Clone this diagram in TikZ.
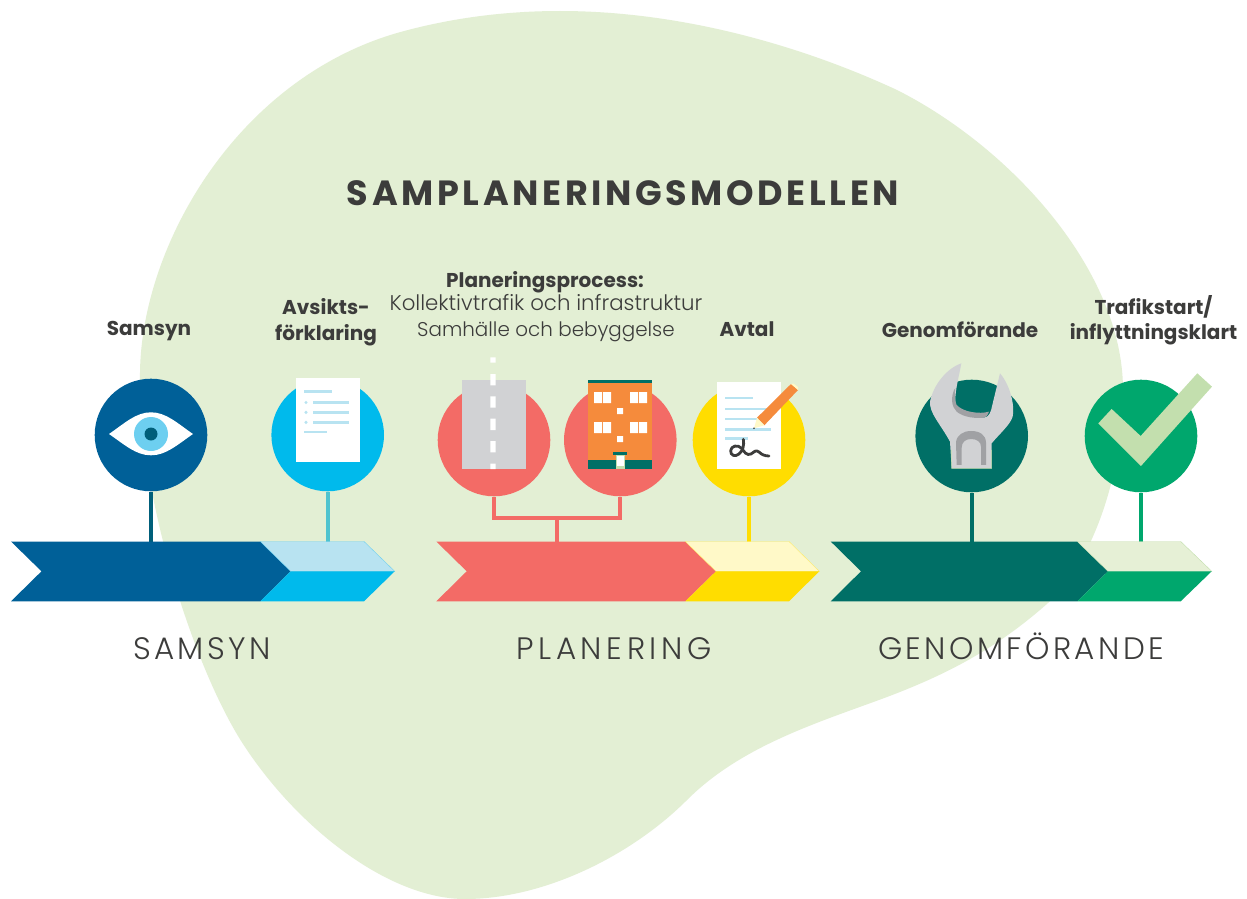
\documentclass[tikz,border=0pt]{standalone}
\usepackage{fontspec}
\setmainfont{Poppins}
\newfontfamily\titlef[LetterSpace=10.4]{Poppins Bold}
\newfontfamily\boldf{Poppins Bold}
\newfontfamily\lightf[LetterSpace=11]{Poppins Light}
\newfontfamily\lightwide[LetterSpace=15]{Poppins Light}
\newfontfamily\regf{Poppins Light}
\definecolor{txt}{HTML}{3C3C3B}
\definecolor{blob}{HTML}{E3EFD4}
\definecolor{navy}{HTML}{006098}
\definecolor{deepteal}{HTML}{005F7A}
\definecolor{cyanc}{HTML}{00BAEC}
\definecolor{lightblue}{HTML}{B8E3F1}
\definecolor{stemcy}{HTML}{4FC3CF}
\definecolor{coral}{HTML}{F36B66}
\definecolor{yel}{HTML}{FFDD00}
\definecolor{lightyel}{HTML}{FFF9C8}
\definecolor{teal}{HTML}{006F66}
\definecolor{green}{HTML}{00A76D}
\definecolor{lightgreen}{HTML}{E6F0D6}
\definecolor{check}{HTML}{C3DFAE}
\definecolor{gray1}{HTML}{D1D2D4}
\definecolor{gray2}{HTML}{A0A1A4}
\definecolor{orange}{HTML}{F58B3C}
\definecolor{iris}{HTML}{6DCFF0}
\tikzset{
  disc/.style={circle,inner sep=0pt,minimum size=112.6pt,fill=#1},
  stem/.style={line width=4pt,draw=#1},
  lab/.style={text=txt,align=center,inner sep=0pt,font=\boldf\fontsize{20}{25.5}\selectfont},
  phase/.style={text=txt,inner sep=0pt,anchor=base,font=\lightf\fontsize{31}{36}\selectfont},
}
\begin{document}
\begin{tikzpicture}[x=1pt,y=-1pt]
\useasboundingbox (0,0) rectangle (1247,899);
\fill[white] (0,0) rectangle (1247,899);
% blob
\fill[blob] (560,11) .. controls (680,11) and (800,45) .. (897,90)
 .. controls (1010,147) and (1123,270) .. (1123,390)
 .. controls (1123,470) and (1095,560) .. (1048,603)
 .. controls (995,650) and (945,675) .. (887,697)
 .. controls (820,722) and (742,745) .. (687,800)
 .. controls (632,855) and (545,899) .. (465,899)
 .. controls (390,899) and (300,830) .. (245,747)
 .. controls (195,672) and (140,500) .. (140,380)
 .. controls (138,250) and (235,80) .. (397,33)
 .. controls (450,18) and (505,11) .. (560,11) -- cycle;
% title
\node[text=txt,inner sep=0pt,anchor=base,font=\titlef\fontsize{35}{40}\selectfont] (title) at (623,205.5) {SAMPLANERINGSMODELLEN};
% anchors on the bands
\coordinate (b1) at (151,542);
\coordinate (b2) at (327.7,542);
\coordinate (b3) at (557,542);
\coordinate (b5) at (749,542);
\coordinate (b6) at (971.7,542);
\coordinate (b7) at (1141,542);
\coordinate (j3) at (557,518);
% circles
\node[disc=navy] (c1) at (151,435) {};
\node[disc=cyanc] (c2) at (327.7,435) {};
\node[disc=coral] (c3) at (494,440) {};
\node[disc=coral] (c4) at (620.3,440) {};
\node[disc=yel] (c5) at (749,440) {};
\node[disc=teal] (c6) at (971.7,436) {};
\node[disc=green] (c7) at (1141,436) {};
% connectors
\draw[stem=deepteal] (c1.south) -- (b1);
\draw[stem=stemcy] (c2.south) -- (b2);
\draw[stem=coral] (c3.south) |- (j3) -| (c4.south);
\draw[stem=coral] (j3) -- (b3);
\draw[stem=yel] (c5.south) -- (b5);
\draw[stem=teal] (c6.south) -- (b6);
\draw[stem=green] (c7.south) -- (b7);
% chevron bands
\fill[navy] (11,541.5) -- (260.3,541.5) -- (290.7,571.3) -- (260.3,601.3) -- (11,601.3) -- (41.5,571.3) -- cycle;
\filldraw[fill=lightblue,draw=iris,line width=.4pt] (260.3,541.5) -- (364,541.5) -- (394.7,571.3) -- (290.7,571.3) -- cycle;
\fill[cyanc] (290.7,571.3) -- (394.7,571.3) -- (364,601.3) -- (260.3,601.3) -- cycle;
\fill[coral] (436.3,541.5) -- (685.3,541.5) -- (716,571.3) -- (685.3,601.3) -- (436.3,601.3) -- (466.7,571.3) -- cycle;
\filldraw[fill=lightyel,draw=yel!60,line width=.4pt] (685.3,541.5) -- (789,541.5) -- (819.3,571.3) -- (716,571.3) -- cycle;
\fill[yel] (716,571.3) -- (819.3,571.3) -- (789,601.3) -- (685.3,601.3) -- cycle;
\fill[teal] (830.7,541.5) -- (1077.3,541.5) -- (1108,571.3) -- (1077.3,601.3) -- (830.7,601.3) -- (861,571.3) -- cycle;
\filldraw[fill=lightgreen,draw=check,line width=.4pt] (1077.3,541.5) -- (1180.7,541.5) -- (1211.7,571.3) -- (1108,571.3) -- cycle;
\fill[green] (1108,571.3) -- (1211.7,571.3) -- (1180.7,601.3) -- (1077.3,601.3) -- cycle;
% labels
\node[lab] (l1) at (149,331.5) {Samsyn};
\node[lab] (l2) at (326,322) {Avsikts-\\förklaring};
\node[lab] (l3) at (545,282) {Planeringsprocess:};
\node[text=txt,align=center,inner sep=0pt,font=\regf\fontsize{20.7}{26}\selectfont] (l3b) at (546,318.5) {{\fontsize{21.3}{26}\selectfont Kollektivtrafik och infrastruktur}\\{\fontsize{19.9}{26}\selectfont Samhälle och bebyggelse}};
\node[lab] (l5) at (747,329) {Avtal};
\node[lab] (l6) at (960,329.5) {Genomförande};
\node[lab] (l7) at (1153.5,320) {Trafikstart/\\inflyttningsklart};
\node[phase] (p1) at (202,659) {SAMSYN};
\node[phase,font=\lightwide\fontsize{31}{36}\selectfont] (p2) at (614,659) {PLANERING};
\node[phase] (p3) at (1021,659) {GENOMFÖRANDE};
% eye
\fill[white] (109,434) .. controls (125,423) and (136,412.3) .. (151,412.3) .. controls (166,412.3) and (177,423) .. (193,434) .. controls (177,445) and (166,455.3) .. (151,455.3) .. controls (136,455.3) and (125,445) .. (109,434) -- cycle;
\fill[iris] (151,434) circle (17);
\fill[deepteal] (151,434) circle (6.5);
% document
\fill[white] (296,378) rectangle (360,461.7);
\begin{scope}[lightblue,line width=2.8pt]
\draw (304,391.3) -- (332,391.3);
\draw (313,402.5) -- (349.3,402.5);
\draw (313,412.4) -- (349.3,412.4);
\draw (313,422.4) -- (349.3,422.4);
\draw (304,432) -- (327,432);
\end{scope}
\fill[lightblue] (306,402.5) circle (1.7) (306,412.4) circle (1.7) (306,422.4) circle (1.7);
% road
\fill[gray1] (462.3,380.3) rectangle (526,469);
\fill[white] (490.3,357.3) rectangle (495.7,362.7)
 (490.3,374) rectangle (495.7,385.3)
 (490.3,396.3) rectangle (495.7,407.7)
 (490.3,418.7) rectangle (495.7,430)
 (490.3,441) rectangle (495.7,452.3)
 (490.3,463.7) rectangle (495.7,469);
% building
\fill[orange] (588,380) rectangle (652,469);
\fill[teal] (588,380) rectangle (652,383.3);
\fill[teal] (588,460) rectangle (652,469);
\fill[white] (594,392) rectangle (602,403) (603,392) rectangle (611,403)
 (630,392) rectangle (638,403) (639,392) rectangle (647,403)
 (594,422) rectangle (602,433) (603,422) rectangle (611,433)
 (630,422) rectangle (638,433) (639,422) rectangle (647,433)
 (617,408) rectangle (623,414) (617,436) rectangle (623,442);
\fill[teal] (613,452) rectangle (627,455);
\fill[check] (616,455.3) rectangle (625,469);
\fill[white] (617,456) rectangle (624,466);
% contract
\fill[white] (717,382) rectangle (781,469);
\begin{scope}[lightblue,line width=2.6pt]
\draw (725,398) -- (753,398);
\draw (725,409) -- (768,409);
\draw (725,419) -- (760,419);
\draw (725,429.3) -- (771,429.3);
\draw (725,438.7) -- (748,438.7);
\end{scope}
\fill[orange] (757,417.7) -- (764.3,425.3) -- (798,390) -- (791,384) -- cycle;
\fill[lightyel] (754,428.3) -- (757,417.7) -- (764.3,425.3) -- cycle;
\fill[lightyel] (791,384) -- (793.5,383.5) -- (798,387) -- (798,390) -- cycle;
\fill[txt] (754,428.3) circle (0.9);
\begin{scope}[shift={(715,380)},x=0.3333pt,y=-0.3333pt]
\draw[txt,line width=2.8pt,line cap=round,line join=round] (85,178) .. controls (88,195) and (84,212) .. (72,222) .. controls (60,232) and (46,226) .. (47,212) .. controls (48,198) and (68,192) .. (80,205) .. controls (88,216) and (95,228) .. (108,222) .. controls (118,216) and (122,208) .. (132,216) .. controls (140,224) and (150,228) .. (162,228);
\end{scope}
% wrench
\begin{scope}[shift={(920,355)},x=0.3333pt,y=-0.3333pt]
\fill[gray1] (124,25) .. controls (80,40) and (40,90) .. (30,140) .. controls (28,175) and (60,205) .. (90,260) -- (95,340) -- (215,340) -- (215,265) .. controls (240,235) and (270,210) .. (278,185) .. controls (285,150) and (270,90) .. (240,55) -- (217,150) .. controls (213,170) and (208,185) .. (195,187) .. controls (160,190) and (120,175) .. (108,150) .. controls (100,125) and (118,60) .. (124,25) -- cycle;
\fill[gray2] (102,105) .. controls (92,130) and (95,155) .. (110,170) .. controls (130,187) and (170,192) .. (195,187) .. controls (200,185) and (205,178) .. (207,170) .. controls (180,178) and (130,172) .. (110,150) .. controls (103,135) and (103,120) .. (106,100) -- cycle;
\fill[gray2] (110,330) -- (108,262) .. controls (110,240) and (130,228) .. (153,228) .. controls (180,228) and (197,240) .. (198,262) -- (198,330) -- (183,330) -- (183,275) .. controls (183,260) and (170,252) .. (153,252) .. controls (136,252) and (125,262) .. (125,278) -- (125,330) -- cycle;
\draw[check,line width=.5pt] (94,285) -- (95,340) -- (215,340) -- (215,285);
\end{scope}
% check
\begin{scope}[shift={(825,350)},x=0.3333pt,y=-0.3333pt]
\fill[check] (820,220) -- (860,177) -- (947,258) -- (1117,70) -- (1161,110) -- (948,348) -- cycle;
\end{scope}
\end{tikzpicture}
\end{document}
